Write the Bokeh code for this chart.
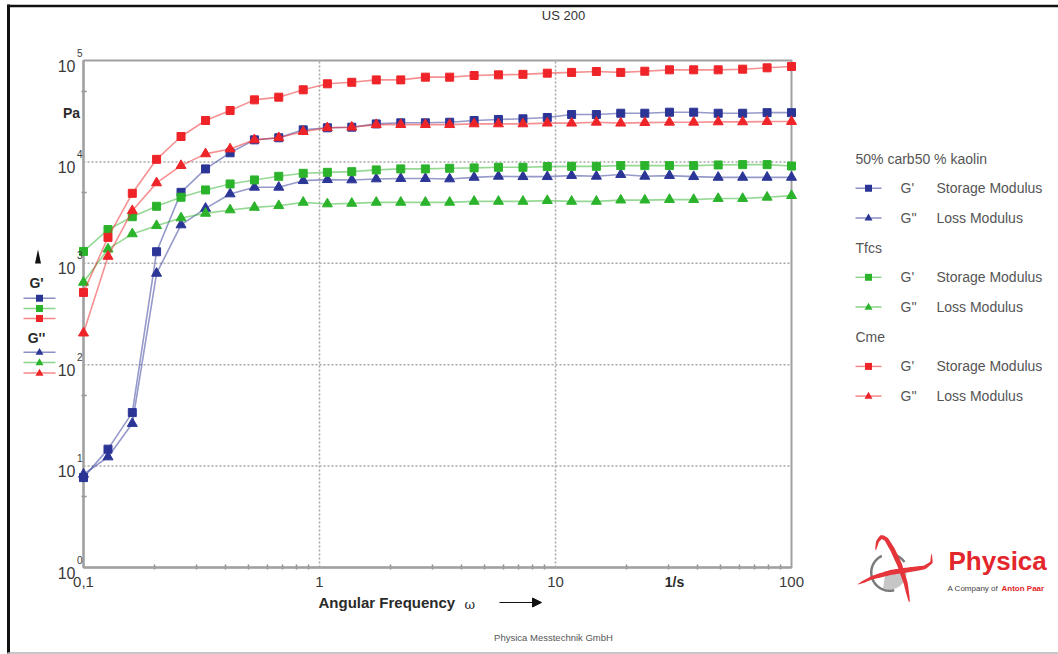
import numpy as np
from bokeh.plotting import figure
from bokeh.models import (Range1d, FixedTicker, Label, BoxAnnotation, PolyAnnotation,
                          Arrow, NormalHead, CustomJSTickFormatter)
from bokeh.embed import file_html
from bokeh.resources import INLINE

# ---------------- data ----------------
omega = [0.1, 0.127, 0.161, 0.204, 0.259, 0.329, 0.418, 0.530, 0.672, 0.853,
         1.08, 1.37, 1.74, 2.21, 2.81, 3.56, 4.52, 5.73, 7.28, 9.23,
         11.7, 14.9, 18.9, 23.9, 30.4, 38.5, 48.9, 62.1, 78.8, 100]

kaolin_storage = [7.7, 14.7, 33.7, 1300, 5010, 8530, 12300, 16500, 17300, 20700,
                  21700, 22000, 23700, 24300, 24300, 24600, 25600, 26200, 26600, 27400,
                  29300, 29300, 30200, 30200, 30900, 30900, 30200, 30200, 30600, 30600]
kaolin_loss = [8.3, 12.3, 26.3, 796, 2390, 3480, 4830, 5620, 5620, 6530,
               6680, 6640, 6790, 6850, 6850, 6790, 7040, 7210, 7150, 7150,
               7330, 7210, 7500, 7210, 7330, 7150, 7040, 7040, 7040, 7040]
tfcs_storage = [1310, 2150, 2880, 3650, 4480, 5290, 6060, 6640, 7210, 7720,
                7890, 8010, 8340, 8530, 8530, 8650, 8730, 8850, 8850, 8990,
                9040, 9040, 9190, 9190, 9190, 9190, 9330, 9400, 9400, 9110]
tfcs_loss = [649, 1380, 1950, 2350, 2800, 3110, 3360, 3560, 3700, 3990,
             3850, 3900, 3990, 3990, 3990, 3990, 4080, 4080, 4080, 4150,
             4080, 4080, 4200, 4200, 4250, 4250, 4350, 4350, 4480, 4650]
cme_storage = [516, 1800, 4900, 10600, 17800, 25600, 32100, 40900, 43500, 51400,
               58900, 61000, 64400, 64400, 68500, 68500, 71100, 72200, 73000, 75000,
               76300, 77900, 76300, 78400, 80900, 80900, 80900, 82100, 84700, 87300]
cme_loss = [205, 1170, 3300, 6210, 9190, 12000, 13400, 16500, 17300, 19900,
            21700, 22000, 23300, 23300, 23300, 23300, 23700, 23700, 23700, 24100,
            24100, 24600, 24100, 24400, 24600, 24600, 24800, 24800, 25000, 25000]

groups = ["50% carb50 % kaolin", "Tfcs", "Cme"]
group_colors = ["#2b3596", "#2cb32c", "#ee2428"]
group_series = [(kaolin_storage, kaolin_loss), (tfcs_storage, tfcs_loss), (cme_storage, cme_loss)]
kinds = [("G'", "Storage Modulus"), ("G''", "Loss Modulus")]

x_bounds = (0.1, 100)
y_bounds = (1, 100000)
x_major = [0.1, 1, 10, 100]
x_minor = [0.2, 0.3, 0.4, 0.5, 0.6, 0.7, 0.8, 0.9, 2, 3, 4, 5, 6, 7, 8, 9,
           20, 30, 40, 50, 60, 70, 80, 90]
y_major = [1, 10, 100, 1000, 10000, 100000]
y_minor = [5, 50, 500, 5000, 50000]
x_grid = [1, 10]
y_grid = [10, 100, 1000, 10000]
x_tick_labels = ["0,1", "1", "10", "100"]
y_exponents = ["0", "1", "2", "3", "4", "5"]

# ---------------- layout (page pixels) ----------------
W, H = 1058, 654
FL, FR, FT, FB = 83, 791, 60, 567   # plot box on the page
FONT = "Liberation Sans"


def dx(px):
    return 10 ** (np.log10(x_bounds[0]) + np.log10(x_bounds[1] / x_bounds[0])
                  * (np.asarray(px, dtype=float) - FL) / (FR - FL))


def dy(py):
    return 10 ** (np.log10(y_bounds[0]) + np.log10(y_bounds[1] / y_bounds[0])
                  * (FB - np.asarray(py, dtype=float)) / (FB - FT))


p = figure(width=W, height=H, x_axis_type="log", y_axis_type="log",
           x_range=Range1d(float(dx(0)), float(dx(W))),
           y_range=Range1d(float(dy(H)), float(dy(0))),
           output_backend="svg", toolbar_location=None, title=None,
           min_border=0)
p.background_fill_color = "white"
p.border_fill_color = "white"
p.outline_line_color = None
p.xgrid.visible = False
p.ygrid.visible = False

xa, ya = p.xaxis[0], p.yaxis[0]
xa.fixed_location = y_bounds[0]
ya.fixed_location = x_bounds[0]
xa.bounds = x_bounds
ya.bounds = y_bounds
for ax, maj, mnr in ((xa, x_major, x_minor), (ya, y_major, y_minor)):
    ax.ticker = FixedTicker(ticks=maj, minor_ticks=mnr)
    ax.formatter = CustomJSTickFormatter(code="return ''")
    ax.axis_line_color = "#8c8c8c"
    ax.axis_line_width = 2
    ax.major_tick_in = 0
    ax.major_tick_out = 0
    ax.minor_tick_line_color = "#8c8c8c"
    ax.minor_tick_line_width = 1.5
    ax.minor_tick_in = 3
    ax.minor_tick_out = 2
    ax.level = "underlay"

# plot box and dotted decade grid
p.add_layout(BoxAnnotation(left=x_bounds[0], right=x_bounds[1], bottom=y_bounds[0],
                           top=y_bounds[1], fill_alpha=0, line_color="#a0a0a0",
                           line_alpha=1.0, line_width=2, level="underlay"))
p.segment(x0=x_grid, y0=[y_bounds[0]] * len(x_grid), x1=x_grid, y1=[y_bounds[1]] * len(x_grid),
          line_color="#a6a6a6", line_dash="2 2", line_width=1.5)
p.segment(x0=[x_bounds[0]] * len(y_grid), y0=y_grid, x1=[x_bounds[1]] * len(y_grid), y1=y_grid,
          line_color="#a6a6a6", line_dash="2 2", line_width=1.5)

# ---------------- data series ----------------
for color, (st, lo) in zip(group_colors, group_series):
    p.line(omega, st, line_color=color, line_alpha=0.5, line_width=1.6)
    p.scatter(omega, st, marker="square", size=8, fill_color=color, line_color=color)
    p.line(omega, lo, line_color=color, line_alpha=0.5, line_width=1.6)
    p.scatter(omega, lo, marker="triangle", size=10, fill_color=color, line_color=color)


# ---------------- helpers for page-pixel placed decorations ----------------
def label(px, py, text, size, color="#333333", bold=False, align="center", font=FONT):
    p.add_layout(Label(x=float(dx(px)), y=float(dy(py)), text=text, text_font=font,
                       text_font_size=f"{size}px", text_color=color,
                       text_font_style="bold" if bold else "normal",
                       text_align=align, text_baseline="middle"))


def poly(pts, color):
    pts = np.asarray(pts, dtype=float)
    p.add_layout(PolyAnnotation(xs=[float(v) for v in dx(pts[:, 0])],
                                ys=[float(v) for v in dy(pts[:, 1])],
                                fill_color=color, fill_alpha=1.0, line_color=None))


def square(cx, cy, s, color):
    h = s / 2
    poly([(cx - h, cy - h), (cx + h, cy - h), (cx + h, cy + h), (cx - h, cy + h)], color)


def triangle(cx, cy, s, color):
    h = s * 0.87
    poly([(cx, cy - h * 0.62), (cx + s / 2, cy + h * 0.38), (cx - s / 2, cy + h * 0.38)], color)


def seg(x0, y0, x1, y1, color, alpha=1.0, width=1.5):
    p.add_layout(Arrow(x_start=float(dx(x0)), y_start=float(dy(y0)), x_end=float(dx(x1)),
                       y_end=float(dy(y1)), end=None, line_color=color, line_alpha=alpha,
                       line_width=width))


def hline(x0, x1, y, color, alpha=0.55, width=1.5):
    seg(x0, y, x1, y, color, alpha, width)


# outer frame of the screenshot
seg(8, 4, 8, 653, "#111111", width=3)
seg(7, 5.5, 1058, 5.5, "#111111", width=2.5)
seg(7, 652.5, 1058, 652.5, "#b4b4b4", width=1.5)

# ---------------- axis texts ----------------
label(563, 15, "US 200", 13, "#333333")
for k, e in enumerate(y_exponents):
    g = FB - (FB - FT) * k / 5
    label(75, g + 5, "10", 16, "#3a3a3a", align="right")
    label(76.5, g - 8, e, 10, "#3a3a3a", align="left")
for v, t in zip(x_major, x_tick_labels):
    px = FL + (FR - FL) * (np.log10(v) + 1) / 3
    label(px, 581, t, 15, "#3a3a3a")
label(674, 581, "1/s", 14, "#2a2a2a", bold=True)
label(71, 112, "Pa", 14, "#2a2a2a", bold=True)
label(318, 602, "Angular Frequency", 15, "#2a2a2a", bold=True, align="left")
label(464, 604, "ω", 13, "#2a2a2a", align="left", font="DejaVu Serif")
p.add_layout(Arrow(x_start=float(dx(499)), y_start=float(dy(602)), x_end=float(dx(541)),
                   y_end=float(dy(602)), line_color="#111111", line_width=1.2,
                   end=NormalHead(size=9, fill_color="#111111", line_color="#111111")))
label(553, 637, "Physica Messtechnik GmbH", 9.5, "#555555")

# ---------------- left mini legend ----------------
poly([(37.5, 249), (40.5, 263), (34.5, 263)], "#111111")
label(36, 282, "G'", 14, "#2a2a2a", bold=True)
label(36, 337, "G''", 14, "#2a2a2a", bold=True)
for i, color in enumerate(group_colors):
    ys = 297.7 + 10.2 * i
    hline(23, 55, ys, color)
    square(39, ys, 7, color)
    yt = 351.7 + 10.4 * i
    hline(23, 55, yt, color)
    triangle(39, yt, 8, color)

# ---------------- right legend ----------------
row = 0
for gname, color in zip(groups, group_colors):
    yy = 158 + 29.7 * row
    label(855, yy, gname, 14, "#555555", align="left")
    row += 1
    for j, (sym, desc) in enumerate(kinds):
        yy = 158 + 29.7 * row
        hline(855, 881, yy, color)
        if j == 0:
            square(868, yy, 7, color)
        else:
            triangle(868, yy, 8, color)
        label(900, yy, sym, 14, "#555555", align="left")
        label(936, yy, desc, 14, "#555555", align="left")
        row += 1


# ---------------- Physica logo ----------------
def stroke(pts, wmax, power=0.8, n=60):
    pts = np.asarray(pts, dtype=float)
    seglen = np.hypot(*np.diff(pts, axis=0).T)
    s = np.concatenate([[0], np.cumsum(seglen)])
    s /= s[-1]
    t = np.linspace(0, 1, n)
    P = np.stack([np.interp(t, s, pts[:, 0]), np.interp(t, s, pts[:, 1])], axis=1)
    d = np.gradient(P, axis=0)
    nrm = np.stack([-d[:, 1], d[:, 0]], axis=1) / np.linalg.norm(d, axis=1)[:, None]
    w = wmax * np.sin(np.pi * t) ** power / 2
    return np.vstack([P + nrm * w[:, None], (P - nrm * w[:, None])[::-1]])


def arc_ring(cx, cy, r0, r1, a0, a1, n=40):
    ang = np.radians(np.linspace(a0, a1, n))
    outer = np.stack([cx + r1 * np.cos(ang), cy + r1 * np.sin(ang)], axis=1)
    inner = np.stack([cx + r0 * np.cos(ang), cy + r0 * np.sin(ang)], axis=1)[::-1]
    return np.vstack([outer, inner])


CX, CY = 889, 572
ang = np.radians(np.linspace(-5, 112, 40))
sector = np.vstack([[(CX - 4, CY - 1)], np.stack([CX + 17 * np.cos(ang), CY + 17 * np.sin(ang)], axis=1)])
poly(sector, "#c6c6c6")
poly(arc_ring(CX, CY, 17, 19.5, 75, 245), "#7a7a7a")
poly(arc_ring(CX, CY, 17, 19.5, 285, 325), "#7a7a7a")
poly(stroke([(875, 550), (877, 541), (881, 536), (886, 539), (892, 549),
             (899, 564), (905, 582), (909, 602)], 5.0, power=0.5), "#e5343a")
poly(stroke([(857, 584), (872, 577), (890, 572), (910, 569), (924, 567),
             (931, 562), (931, 553)], 5.0, power=0.6), "#e5343a")

label(948, 560, "Physica", 26, "#e3262b", bold=True, align="left")
label(947, 588, "A Company of", 8, "#444444", align="left")
label(1001, 588, "Anton Paar", 8, "#e3262b", bold=True, align="left")

open("out.html", "w").write(file_html(p, INLINE))
